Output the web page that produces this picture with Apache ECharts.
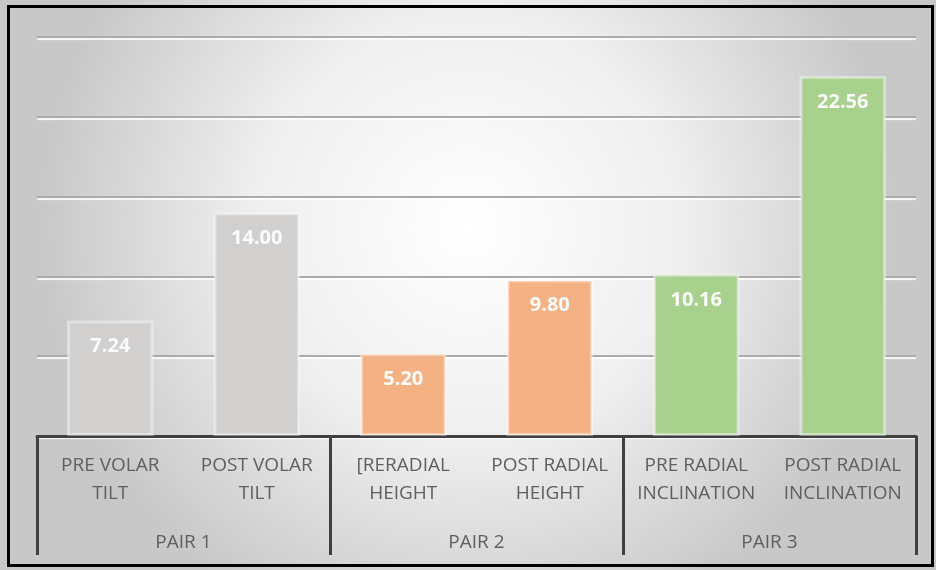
<!DOCTYPE html>
<html>
<head>
<meta charset="utf-8">
<script src="https://cdn.jsdelivr.net/npm/echarts@6/dist/echarts.min.js"></script>
<style>
  html, body { margin: 0; padding: 0; background: #ffffff; }
  #chart { width: 936px; height: 570px; }
</style>
</head>
<body>
<div id="chart"></div>
<script>
// Radiographic parameters, pre vs post, grouped into pairs
const measures = [
  'PRE VOLAR\nTILT', 'POST VOLAR\nTILT',
  '[RERADIAL\nHEIGHT', 'POST RADIAL\nHEIGHT',
  'PRE RADIAL\nINCLINATION', 'POST RADIAL\nINCLINATION'
];
const values = [7.24, 14.00, 5.20, 9.80, 10.16, 22.56];
const pairs = ['PAIR 1', 'PAIR 2', 'PAIR 3'];
const barColors = ['#d2cfcf', '#d2cfcf', '#f4b183', '#f4b183', '#a9d18e', '#a9d18e'];

const chart = echarts.init(document.getElementById('chart'), null, { renderer: 'canvas' });

const labelFont = '"Open Sans", Lato, sans-serif';

chart.setOption({
  animation: false,
  backgroundColor: {
    type: 'radial', x: 0.5, y: 0.4, r: 0.75,
    colorStops: [
      { offset: 0, color: '#ffffff' },
      { offset: 0.5, color: '#efefef' },
      { offset: 1, color: '#c8c8c8' }
    ]
  },
  grid: { left: 37, right: 20, top: 37, bottom: 134, containLabel: false },
  xAxis: [
    {
      type: 'category',
      data: measures,
      position: 'bottom',
      axisLine: { show: true, lineStyle: { color: '#404040', width: 3 } },
      axisTick: { show: false },
      axisLabel: {
        interval: 0,
        margin: 16,
        color: '#5f5f5f',
        fontFamily: labelFont,
        fontSize: 19,
        lineHeight: 28
      }
    },
    {
      type: 'category',
      data: pairs,
      position: 'bottom',
      boundaryGap: true,
      axisLine: { show: false },
      axisTick: {
        show: true,
        alignWithLabel: false,
        length: 119,
        lineStyle: { color: '#404040', width: 3 }
      },
      axisLabel: {
        interval: 0,
        margin: 97,
        color: '#5f5f5f',
        fontFamily: labelFont,
        fontSize: 19
      }
    }
  ],
  yAxis: {
    type: 'value',
    min: 0,
    max: 25,
    interval: 5,
    axisLine: { show: false },
    axisTick: { show: false },
    axisLabel: { show: false },
    splitLine: {
      show: true,
      lineStyle: {
        color: '#ababab',
        width: 2,
        shadowColor: 'rgba(255,255,255,0.9)',
        shadowOffsetY: 2,
        shadowBlur: 1
      }
    }
  },
  series: [
    {
      type: 'bar',
      xAxisIndex: 0,
      barCategoryGap: '41%',
      data: values.map((v, i) => ({
        value: v,
        itemStyle: { color: barColors[i] }
      })),
      itemStyle: {
        borderColor: 'rgba(255,255,255,0.4)',
        borderWidth: 3
      },
      label: {
        show: true,
        position: 'insideTop',
        distance: 16,
        color: '#fbfbfb',
        fontFamily: labelFont,
        fontWeight: 'bold',
        fontSize: 20,
        formatter: p => p.value.toFixed(2)
      }
    }
  ],
  graphic: [
    {
      type: 'rect',
      silent: true,
      z: 100,
      shape: { x: 8.5, y: 6.5, width: 924, height: 559 },
      style: { fill: null, stroke: '#000000', lineWidth: 3 }
    }
  ]
});
</script>
</body>
</html>
